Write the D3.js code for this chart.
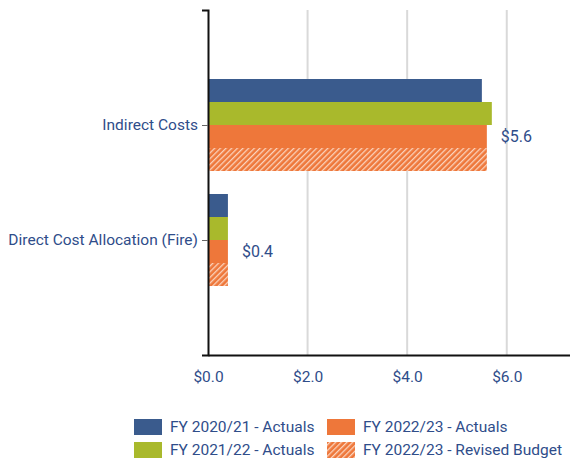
<!DOCTYPE html>
<html>
<head>
<meta charset="utf-8">
<script src="https://cdn.jsdelivr.net/npm/d3@7"></script>
<style>
  body { margin: 0; background: #fff; }
  text { font-family: Roboto, "Noto Sans", sans-serif; fill: #2f4d8a; }
</style>
</head>
<body>
<script>
// chart data
categories = ['Indirect Costs', 'Direct Cost Allocation (Fire)'];
series = ['FY 2020/21 - Actuals', 'FY 2021/22 - Actuals', 'FY 2022/23 - Actuals', 'FY 2022/23 - Revised Budget'];
values = [
  [5.5, 0.4],
  [5.7, 0.4],
  [5.6, 0.4],
  [5.6, 0.4]
];
labels = ['$5.6', '$0.4'];
xTicks = [0, 2, 4, 6];

width = 570, height = 460;
colors = ['#3a5b8d', '#a9b92c', '#ee773a', '#ee773a'];

svg = d3.select('body').append('svg')
  .attr('width', width)
  .attr('height', height);

defs = svg.append('defs');
pat = defs.append('pattern')
  .attr('id', 'hatch')
  .attr('patternUnits', 'userSpaceOnUse')
  .attr('width', 4).attr('height', 4)
  .attr('patternTransform', 'rotate(45)');
pat.append('rect').attr('width', 4).attr('height', 4).attr('fill', '#ee773a');
pat.append('rect').attr('x', 0).attr('width', 1.3).attr('height', 4).attr('fill', '#fbd3bd');

plotL = 208, plotR = 570, plotT = 10, plotB = 355;
fs = 15.5;

xScale = d3.scaleLinear()
  .domain([0, 7.27])
  .range([plotL, plotR]);
yScale = d3.scalePoint()
  .domain(categories)
  .range([plotT, plotB])
  .padding(1);
inner = d3.scaleBand()
  .domain(d3.range(series.length))
  .range([-46, 46]);

// gridlines
svg.append('g')
  .selectAll('line')
  .data(xTicks.slice(1))
  .enter().append('line')
  .attr('x1', d => xScale(d)).attr('x2', d => xScale(d))
  .attr('y1', plotT).attr('y2', plotB)
  .attr('stroke', '#d9d9d9')
  .attr('stroke-width', 2);

// bars
series.forEach(function(s, i) {
  svg.append('g')
    .selectAll('rect')
    .data(values[i])
    .enter().append('rect')
    .attr('x', xScale(0))
    .attr('y', (d, j) => yScale(categories[j]) + inner(i))
    .attr('width', d => xScale(d) - xScale(0))
    .attr('height', inner.bandwidth())
    .attr('fill', i == 3 ? 'url(#hatch)' : colors[i]);
});

// value labels
svg.append('g')
  .selectAll('text')
  .data(labels)
  .enter().append('text')
  .attr('x', (d, j) => xScale(values[2][j]) + 14)
  .attr('y', (d, j) => yScale(categories[j]) + inner(2) + inner.bandwidth() / 2)
  .attr('dy', '0.35em')
  .attr('font-size', 16)
  .text(d => d);

// axes
xAxis = svg.append('g')
  .attr('transform', 'translate(0,' + plotB + ')')
  .call(d3.axisBottom(xScale).tickValues(xTicks).tickFormat(d => '$' + d.toFixed(1)).tickSizeOuter(0).tickSize(0).tickPadding(16));
xAxis.select('.domain').attr('stroke', '#111').attr('stroke-width', 2);
xAxis.selectAll('text').attr('font-size', fs).style('fill', '#2f4d8a');

yAxis = svg.append('g')
  .attr('transform', 'translate(' + plotL + ',0)')
  .call(d3.axisLeft(yScale).tickSize(6).tickSizeOuter(6).tickPadding(4));
yAxis.select('.domain').attr('stroke', '#111').attr('stroke-width', 2);
yAxis.selectAll('.tick line').attr('stroke', '#666');
yAxis.selectAll('text').attr('font-size', fs).style('fill', '#2f4d8a');

// legend
legendPos = [[134, 427], [134, 450], [327, 427], [327, 450]];
legend = svg.append('g')
  .selectAll('g')
  .data(series)
  .enter().append('g')
  .attr('transform', (d, i) => 'translate(' + legendPos[i][0] + ',' + legendPos[i][1] + ')');
legend.append('rect')
  .attr('x', 0).attr('y', -8)
  .attr('width', 28).attr('height', 16)
  .attr('fill', (d, i) => i == 3 ? 'url(#hatch)' : colors[i]);
legend.append('text')
  .attr('x', 36).attr('dy', '0.35em')
  .attr('font-size', fs)
  .text(d => d);
</script>
</body>
</html>
